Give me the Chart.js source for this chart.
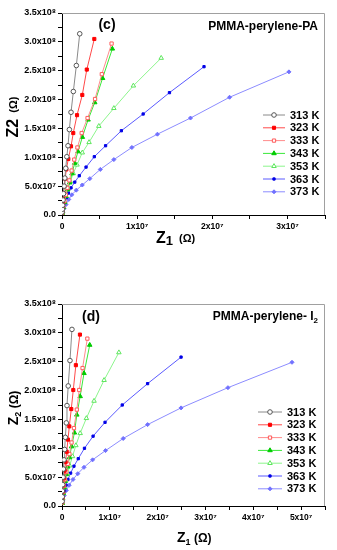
<!DOCTYPE html>
<html>
<head>
<meta charset="utf-8">
<script src="https://cdn.jsdelivr.net/npm/chart.js@4.4.0/dist/chart.umd.min.js"></script>
<style>
  html, body { margin: 0; padding: 0; background: #fff; }
  .box { position: absolute; left: 0; width: 337px; }
  #boxC { top: 0; height: 265px; }
  #boxD { top: 275px; height: 275px; }
</style>
</head>
<body>
<div class="box" id="boxC"><canvas id="chartC" width="337" height="265"></canvas></div>
<div class="box" id="boxD"><canvas id="chartD" width="337" height="275"></canvas></div>
<script>
// Z1 in 10^6 Ohm, Z2 in 10^7 Ohm
const temps = ['313 K', '323 K', '333 K', '343 K', '353 K', '363 K', '373 K'];

// (c) PMMA-perylene-PA
const c313x = [0.02, 0.05, 0.09, 0.14, 0.2, 0.28, 0.38, 0.5, 0.64, 0.8, 0.98, 1.2, 1.51, 1.91, 2.36];
const c313y = [0.5, 1.0, 1.7, 2.6, 3.7, 5.0, 6.4, 8.1, 10.1, 12.0, 14.8, 17.8, 21.4, 25.9, 31.4];
const c323x = [0.02, 0.05, 0.09, 0.14, 0.21, 0.3, 0.42, 0.58, 0.84, 1.2, 1.5, 2.0, 2.7, 3.3, 4.3];
const c323y = [0.6, 1.2, 2.0, 2.8, 3.8, 5.0, 6.3, 7.9, 9.7, 11.9, 14.2, 17.3, 20.8, 25.2, 30.5];
const c333x = [0.03, 0.08, 0.17, 0.33, 0.5, 0.72, 0.98, 1.28, 1.63, 2.05, 2.62, 3.4, 4.4, 5.3, 6.6];
const c333y = [0.35, 0.7, 1.5, 2.4, 3.5, 4.7, 6.0, 7.7, 9.6, 11.7, 14.2, 16.8, 20.1, 24.4, 29.7];
const c343x = [0.03, 0.08, 0.18, 0.36, 0.53, 0.76, 1.03, 1.33, 1.69, 2.13, 2.71, 3.47, 4.36, 5.4, 6.7];
const c343y = [0.3, 0.6, 1.35, 2.2, 3.25, 4.4, 5.6, 7.2, 9.0, 11.0, 13.5, 16.5, 19.5, 23.7, 28.8];
const c353x = [0.04, 0.12, 0.27, 0.49, 0.76, 1.1, 1.5, 2.0, 2.7, 3.6, 4.9, 6.9, 9.5, 13.2];
const c353y = [0.5, 1.3, 2.4, 3.5, 4.7, 5.8, 7.2, 8.7, 10.8, 12.6, 15.4, 18.5, 22.4, 27.2];
const c363x = [0.05, 0.13, 0.31, 0.58, 0.85, 1.2, 1.7, 2.3, 3.2, 4.3, 5.8, 7.9, 10.8, 14.3, 18.9];
const c363y = [0.5, 1.3, 2.1, 3.0, 3.8, 4.7, 5.7, 6.8, 8.3, 10.1, 12.0, 14.6, 17.5, 21.2, 25.7];
const c373x = [0.1, 0.27, 0.53, 0.9, 1.3, 1.9, 2.7, 3.7, 5.1, 6.9, 9.3, 12.7, 17.1, 22.3, 30.2];
const c373y = [0.5, 1.1, 1.8, 2.7, 3.5, 4.3, 5.2, 6.3, 7.9, 9.6, 11.7, 14.0, 16.8, 20.4, 24.8];

// (d) PMMA-perylene-I2
const d313x = [0.02, 0.05, 0.09, 0.15, 0.22, 0.31, 0.42, 0.55, 0.7, 0.9, 1.04, 1.3, 1.67, 2.08];
const d313y = [0.8, 1.6, 2.6, 3.7, 5.0, 6.4, 8.0, 9.8, 11.9, 14.4, 17.4, 20.8, 25.2, 30.6];
const d323x = [0.03, 0.08, 0.16, 0.27, 0.4, 0.56, 0.75, 0.98, 1.25, 1.53, 1.94, 2.36, 2.9, 3.75];
const d323y = [0.7, 1.5, 2.5, 3.6, 4.8, 6.1, 7.6, 9.4, 11.5, 13.8, 16.8, 20.1, 24.4, 29.7];
const d333x = [0.05, 0.13, 0.26, 0.43, 0.64, 0.9, 1.2, 1.55, 2.0, 2.5, 3.1, 3.6, 4.3, 5.3];
const d333y = [0.6, 1.4, 2.4, 3.5, 4.6, 5.9, 7.3, 9.0, 11.0, 13.5, 16.7, 20.1, 23.9, 29.0];
const d343x = [0.05, 0.13, 0.26, 0.43, 0.64, 0.9, 1.2, 1.55, 2.0, 2.6, 3.1, 3.8, 4.6, 5.8];
const d343y = [0.5, 1.3, 2.2, 3.2, 4.3, 5.5, 6.8, 8.4, 10.3, 12.7, 15.8, 19.0, 23.0, 27.9];
const d353x = [0.04, 0.12, 0.28, 0.5, 0.8, 1.15, 1.6, 2.2, 2.9, 3.8, 5.1, 6.7, 8.8, 11.9];
const d353y = [0.5, 1.3, 2.3, 3.3, 4.4, 5.6, 7.0, 8.6, 10.5, 12.6, 15.2, 18.2, 21.8, 26.6];
const d363x = [0.08, 0.25, 0.52, 0.85, 1.25, 1.8, 2.5, 3.4, 4.7, 6.5, 9.0, 12.6, 17.9, 24.9];
const d363y = [0.7, 1.6, 2.6, 3.6, 4.6, 5.7, 6.9, 8.2, 10.0, 12.1, 14.5, 17.5, 21.2, 25.8];
const d373x = [0.15, 0.45, 0.9, 1.5, 2.3, 3.3, 4.6, 6.4, 9.1, 12.8, 17.9, 24.9, 34.7, 48.1];
const d373y = [0.9, 1.8, 2.7, 3.6, 4.6, 5.6, 6.7, 8.0, 9.6, 11.7, 14.1, 17.0, 20.5, 24.9];

const styles = [
  {line: '#8a8a8a', shape: 'circle',   fill: '#ffffff', edge: '#555555', r: 2.3},
  {line: '#ff4a4a', shape: 'rect',     fill: '#ff0000', edge: '#ff0000', r: 2.2},
  {line: '#ff8c8c', shape: 'rect',     fill: '#ffffff', edge: '#ff5a5a', r: 2.3},
  {line: '#3ae83a', shape: 'triangle', fill: '#00cc00', edge: '#00cc00', r: 2.6},
  {line: '#8cf58c', shape: 'triangle', fill: '#ffffff', edge: '#5ee65e', r: 2.6},
  {line: '#5a5aff', shape: 'rect',     fill: '#0000e6', edge: '#0000e6', r: 1.6},
  {line: '#8c8cff', shape: 'rectRot',  fill: '#7070ff', edge: '#7070ff', r: 2.0}
];

Chart.defaults.font.family = '"Liberation Sans", Arial, sans-serif';
Chart.defaults.font.weight = 'bold';
Chart.defaults.color = '#000';

function makeSets(xs, ys) {
  return temps.map((t, i) => ({
    label: t,
    data: xs[i].map((x, j) => ({x: x * 1e6, y: ys[i][j] * 1e7})),
    showLine: true,
    borderColor: styles[i].line,
    borderWidth: 1,
    pointStyle: styles[i].shape,
    pointRadius: styles[i].r,
    pointBackgroundColor: styles[i].fill,
    pointBorderColor: styles[i].edge,
    pointBorderWidth: 1
  }));
}

// draws frame, panel labels, legend and axis titles
const deco = {
  id: 'deco',
  afterDraw(chart) {
    const o = chart.options.plugins.deco;
    const ctx = chart.ctx;
    const a = chart.chartArea;
    ctx.save();
    ctx.strokeStyle = '#a0a0a0';
    ctx.lineWidth = 1;
    ctx.beginPath();
    ctx.moveTo(a.left, a.top + 0.5);
    ctx.lineTo(a.right - 0.5, a.top + 0.5);
    ctx.lineTo(a.right - 0.5, a.bottom);
    ctx.stroke();

    const font = s => 'bold ' + s + 'px "Liberation Sans", Arial, sans-serif';
    ctx.fillStyle = '#000';
    ctx.textBaseline = 'middle';
    ctx.textAlign = 'center';
    ctx.font = font(14);
    ctx.fillText(o.tag, o.tagX, o.tagY);

    // sample name, right aligned, optional subscript
    ctx.textAlign = 'left';
    ctx.font = font(12);
    let w = ctx.measureText(o.name).width;
    ctx.font = font(8);
    const ws = o.nameSub ? ctx.measureText(o.nameSub).width : 0;
    ctx.font = font(12);
    ctx.fillText(o.name, o.nameRight - w - ws, o.nameY);
    if (o.nameSub) {
      ctx.font = font(8);
      ctx.fillText(o.nameSub, o.nameRight - ws, o.nameY + 4);
    }

    // legend
    chart.data.datasets.forEach((ds, i) => {
      const y = o.legY + i * o.legDy;
      ctx.strokeStyle = ds.borderColor;
      ctx.lineWidth = 1;
      ctx.beginPath();
      ctx.moveTo(o.legX0, y);
      ctx.lineTo(o.legX1, y);
      ctx.stroke();
      ctx.fillStyle = ds.pointBackgroundColor;
      ctx.strokeStyle = ds.pointBorderColor;
      Chart.helpers.drawPoint(ctx, {pointStyle: ds.pointStyle, radius: ds.pointRadius, borderWidth: 1, rotation: 0}, (o.legX0 + o.legX1) / 2, y);
      ctx.fillStyle = '#000';
      ctx.font = font(11);
      ctx.textAlign = 'left';
      ctx.fillText(ds.label, o.legX1 + 5, y + 0.5);
    });

    // axis titles: [text, size, dy]
    const drawParts = (parts, x, y) => {
      let cx = x;
      parts.forEach(p => {
        ctx.font = font(p[1]);
        ctx.fillText(p[0], cx, y + p[2]);
        cx += ctx.measureText(p[0]).width;
      });
      return cx - x;
    };
    const width = parts => parts.reduce((s, p) => { ctx.font = font(p[1]); return s + ctx.measureText(p[0]).width; }, 0);
    ctx.textAlign = 'left';
    ctx.textBaseline = 'alphabetic';
    drawParts(o.xTitle, o.xTitleX, o.xTitleY);
    ctx.translate(o.yTitleX, o.yTitleC);
    ctx.rotate(-Math.PI / 2);
    drawParts(o.yTitle, -width(o.yTitle) / 2, 0);
    ctx.restore();
  }
};

function makeChart(id, sets, xMax, pad, xH, deco0) {
  return new Chart(document.getElementById(id), {
    type: 'scatter',
    data: {datasets: sets},
    options: {
      responsive: false,
      animation: false,
      layout: {padding: {top: pad, right: 12, left: 0, bottom: 0}},
      plugins: {legend: {display: false}, tooltip: {enabled: false}, deco: deco0},
      scales: {
        x: {
          type: 'linear', min: 0, max: xMax,
          afterFit: s => { s.height = xH; },
          border: {color: '#000', width: 1},
          grid: {drawOnChartArea: false, tickLength: 4, color: '#000'},
          ticks: {
            stepSize: 5e6, autoSkip: false, maxRotation: 0, padding: 3,
            font: {size: 8.5, weight: 'bold'},
            callback: v => {
              const n = Math.round(v / 1e6);
              if (n === 0) return '0';
              if (n % 10) return '';
              return (n / 10) + 'x10\u2077';
            }
          }
        },
        y: {
          type: 'linear', min: 0, max: 3.5e8,
          afterFit: s => { s.width = 62; },
          border: {color: '#000', width: 1},
          grid: {drawOnChartArea: false, tickLength: 4, color: '#000'},
          ticks: {
            stepSize: 2.5e7, autoSkip: false, padding: 2,
            font: {size: 9, weight: 'bold'},
            callback: v => {
              const n = Math.round(v / 1e6);
              if (n === 0) return '0.0';
              if (n % 50) return '';
              return n < 100 ? (n / 10).toFixed(1) + 'x10\u2077' : (n / 100).toFixed(1) + 'x10\u2078';
            }
          }
        }
      }
    },
    plugins: [deco]
  });
}

makeChart('chartC',
  makeSets([c313x, c323x, c333x, c343x, c353x, c363x, c373x], [c313y, c323y, c333y, c343y, c353y, c363y, c373y]),
  3.5e7, 13, 50,
  {
    tag: '(c)', tagX: 107, tagY: 25,
    name: 'PMMA-perylene-PA', nameSub: '', nameRight: 318, nameY: 27,
    legX0: 263, legX1: 285, legY: 115, legDy: 12.8,
    xTitle: [['Z', 16, 0], ['1', 13, 2], ['  (\u03a9)', 11, -1]], xTitleX: 156, xTitleY: 243,
    yTitle: [['Z2', 16, 0], ['  (\u03a9)', 11, -1]], yTitleX: 18, yTitleC: 117
  });

makeChart('chartD',
  makeSets([d313x, d323x, d333x, d343x, d353x, d363x, d373x], [d313y, d323y, d333y, d343y, d353y, d363y, d373y]),
  5.5e7, 29, 44,
  {
    tag: '(d)', tagX: 91, tagY: 42,
    name: 'PMMA-perylene- I', nameSub: '2', nameRight: 318, nameY: 42,
    legX0: 258, legX1: 282, legY: 137, legDy: 12.8,
    xTitle: [['Z', 14, 0], ['1', 9, 3], [' (\u03a9)', 12, 0]], xTitleX: 177, xTitleY: 267,
    yTitle: [['Z', 14, 0], ['2', 9, 3], [' (\u03a9)', 12, 0]], yTitleX: 18, yTitleC: 133
  });
</script>
</body>
</html>
